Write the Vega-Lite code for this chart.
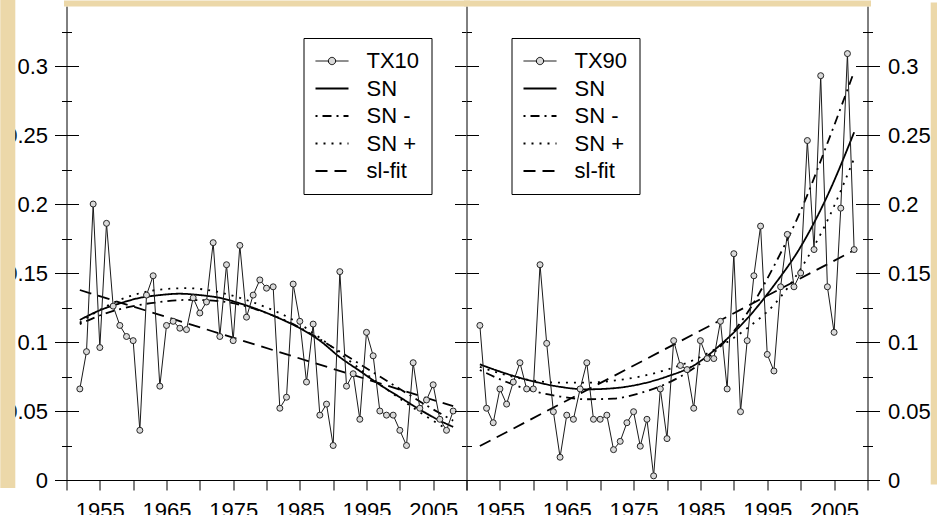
{
  "$schema": "https://vega.github.io/schema/vega-lite/v6.json",
  "background": "white",
  "padding": {"left": 4.5, "top": 3, "right": 2, "bottom": -3},
  "spacing": 0,
  "bounds": "flush",
  "resolve": {"scale": {"strokeDash": "independent"}, "legend": {"strokeDash": "independent"}},
  "config": {
    "font": "Liberation Sans",
    "view": {"stroke": null},
    "axis": {
      "labelFont": "Liberation Sans",
      "labelFontSize": 22,
      "labelColor": "black",
      "tickColor": "black",
      "tickWidth": 1,
      "domainColor": "black",
      "domainWidth": 1,
      "labelFlush": false,
      "labelOverlap": false,
      "labelBound": false
    },
    "legend": {
      "orient": "none",
      "labelFont": "Liberation Sans",
      "labelFontSize": 22,
      "labelColor": "black",
      "padding": 12,
      "rowPadding": 5.5,
      "strokeColor": "black",
      "fillColor": "white"
    }
  },
  "datasets": {
    "tx10": [
      {"year": 1952, "value": 0.066}, {"year": 1953, "value": 0.093}, {"year": 1954, "value": 0.200},
      {"year": 1955, "value": 0.096}, {"year": 1956, "value": 0.186}, {"year": 1957, "value": 0.126},
      {"year": 1958, "value": 0.112}, {"year": 1959, "value": 0.104}, {"year": 1960, "value": 0.101},
      {"year": 1961, "value": 0.036}, {"year": 1962, "value": 0.134}, {"year": 1963, "value": 0.148},
      {"year": 1964, "value": 0.068}, {"year": 1965, "value": 0.112}, {"year": 1966, "value": 0.115},
      {"year": 1967, "value": 0.110}, {"year": 1968, "value": 0.109}, {"year": 1969, "value": 0.132},
      {"year": 1970, "value": 0.121}, {"year": 1971, "value": 0.129}, {"year": 1972, "value": 0.172},
      {"year": 1973, "value": 0.104}, {"year": 1974, "value": 0.156}, {"year": 1975, "value": 0.101},
      {"year": 1976, "value": 0.170}, {"year": 1977, "value": 0.118}, {"year": 1978, "value": 0.134},
      {"year": 1979, "value": 0.145}, {"year": 1980, "value": 0.139}, {"year": 1981, "value": 0.140},
      {"year": 1982, "value": 0.052}, {"year": 1983, "value": 0.060}, {"year": 1984, "value": 0.142},
      {"year": 1985, "value": 0.115}, {"year": 1986, "value": 0.071}, {"year": 1987, "value": 0.113},
      {"year": 1988, "value": 0.047}, {"year": 1989, "value": 0.055}, {"year": 1990, "value": 0.025},
      {"year": 1991, "value": 0.151}, {"year": 1992, "value": 0.068}, {"year": 1993, "value": 0.077},
      {"year": 1994, "value": 0.044}, {"year": 1995, "value": 0.107}, {"year": 1996, "value": 0.090},
      {"year": 1997, "value": 0.050}, {"year": 1998, "value": 0.047}, {"year": 1999, "value": 0.047},
      {"year": 2000, "value": 0.036}, {"year": 2001, "value": 0.025}, {"year": 2002, "value": 0.085},
      {"year": 2003, "value": 0.052}, {"year": 2004, "value": 0.058}, {"year": 2005, "value": 0.069},
      {"year": 2006, "value": 0.044}, {"year": 2007, "value": 0.036}, {"year": 2008, "value": 0.050}
    ],
    "tx10_fits": [
      {"series": "SN", "year": 1952, "value": 0.116}, {"series": "SN", "year": 1955, "value": 0.123},
      {"series": "SN", "year": 1958, "value": 0.128}, {"series": "SN", "year": 1961, "value": 0.132},
      {"series": "SN", "year": 1964, "value": 0.134}, {"series": "SN", "year": 1967, "value": 0.135},
      {"series": "SN", "year": 1970, "value": 0.134}, {"series": "SN", "year": 1973, "value": 0.132},
      {"series": "SN", "year": 1976, "value": 0.128}, {"series": "SN", "year": 1979, "value": 0.123},
      {"series": "SN", "year": 1982, "value": 0.117}, {"series": "SN", "year": 1985, "value": 0.110},
      {"series": "SN", "year": 1988, "value": 0.101}, {"series": "SN", "year": 1991, "value": 0.089},
      {"series": "SN", "year": 1994, "value": 0.079}, {"series": "SN", "year": 1997, "value": 0.069},
      {"series": "SN", "year": 2000, "value": 0.060}, {"series": "SN", "year": 2003, "value": 0.051},
      {"series": "SN", "year": 2006, "value": 0.043}, {"series": "SN", "year": 2008, "value": 0.0385},
      {"series": "SN -", "year": 1952, "value": 0.113}, {"series": "SN -", "year": 1956, "value": 0.121},
      {"series": "SN -", "year": 1960, "value": 0.126}, {"series": "SN -", "year": 1964, "value": 0.129},
      {"series": "SN -", "year": 1968, "value": 0.1305}, {"series": "SN -", "year": 1972, "value": 0.130},
      {"series": "SN -", "year": 1976, "value": 0.127}, {"series": "SN -", "year": 1980, "value": 0.121},
      {"series": "SN -", "year": 1984, "value": 0.113}, {"series": "SN -", "year": 1988, "value": 0.102},
      {"series": "SN -", "year": 1992, "value": 0.090}, {"series": "SN -", "year": 1996, "value": 0.078},
      {"series": "SN -", "year": 2000, "value": 0.066}, {"series": "SN -", "year": 2004, "value": 0.054},
      {"series": "SN -", "year": 2008, "value": 0.043},
      {"series": "SN +", "year": 1952, "value": 0.114}, {"series": "SN +", "year": 1956, "value": 0.126},
      {"series": "SN +", "year": 1960, "value": 0.134}, {"series": "SN +", "year": 1964, "value": 0.138},
      {"series": "SN +", "year": 1968, "value": 0.139}, {"series": "SN +", "year": 1972, "value": 0.137},
      {"series": "SN +", "year": 1976, "value": 0.132}, {"series": "SN +", "year": 1980, "value": 0.125},
      {"series": "SN +", "year": 1984, "value": 0.116}, {"series": "SN +", "year": 1988, "value": 0.103},
      {"series": "SN +", "year": 1992, "value": 0.088}, {"series": "SN +", "year": 1996, "value": 0.073},
      {"series": "SN +", "year": 2000, "value": 0.059}, {"series": "SN +", "year": 2004, "value": 0.046},
      {"series": "SN +", "year": 2008, "value": 0.034},
      {"series": "sl-fit", "year": 1952, "value": 0.1377}, {"series": "sl-fit", "year": 2008, "value": 0.0535}
    ],
    "tx90": [
      {"year": 1952, "value": 0.112}, {"year": 1953, "value": 0.052}, {"year": 1954, "value": 0.0415},
      {"year": 1955, "value": 0.066}, {"year": 1956, "value": 0.055}, {"year": 1957, "value": 0.071},
      {"year": 1958, "value": 0.085}, {"year": 1959, "value": 0.066}, {"year": 1960, "value": 0.066},
      {"year": 1961, "value": 0.156}, {"year": 1962, "value": 0.099}, {"year": 1963, "value": 0.0495},
      {"year": 1964, "value": 0.0165}, {"year": 1965, "value": 0.047}, {"year": 1966, "value": 0.044},
      {"year": 1967, "value": 0.066}, {"year": 1968, "value": 0.085}, {"year": 1969, "value": 0.044},
      {"year": 1970, "value": 0.044}, {"year": 1971, "value": 0.047}, {"year": 1972, "value": 0.022},
      {"year": 1973, "value": 0.028}, {"year": 1974, "value": 0.0415}, {"year": 1975, "value": 0.0495},
      {"year": 1976, "value": 0.0245}, {"year": 1977, "value": 0.044}, {"year": 1978, "value": 0.003},
      {"year": 1979, "value": 0.066}, {"year": 1980, "value": 0.030}, {"year": 1981, "value": 0.101},
      {"year": 1982, "value": 0.083}, {"year": 1983, "value": 0.080}, {"year": 1984, "value": 0.052},
      {"year": 1985, "value": 0.101}, {"year": 1986, "value": 0.088}, {"year": 1987, "value": 0.088},
      {"year": 1988, "value": 0.115}, {"year": 1989, "value": 0.066}, {"year": 1990, "value": 0.164},
      {"year": 1991, "value": 0.0495}, {"year": 1992, "value": 0.101}, {"year": 1993, "value": 0.148},
      {"year": 1994, "value": 0.184}, {"year": 1995, "value": 0.091}, {"year": 1996, "value": 0.079},
      {"year": 1997, "value": 0.140}, {"year": 1998, "value": 0.178}, {"year": 1999, "value": 0.140},
      {"year": 2000, "value": 0.150}, {"year": 2001, "value": 0.246}, {"year": 2002, "value": 0.167},
      {"year": 2003, "value": 0.293}, {"year": 2004, "value": 0.140}, {"year": 2005, "value": 0.107},
      {"year": 2006, "value": 0.197}, {"year": 2007, "value": 0.309}, {"year": 2008, "value": 0.167}
    ],
    "tx90_fits": [
      {"series": "SN", "year": 1952, "value": 0.0838}, {"series": "SN", "year": 1956, "value": 0.077},
      {"series": "SN", "year": 1960, "value": 0.0715}, {"series": "SN", "year": 1964, "value": 0.0675},
      {"series": "SN", "year": 1968, "value": 0.0657}, {"series": "SN", "year": 1972, "value": 0.0665},
      {"series": "SN", "year": 1976, "value": 0.0695}, {"series": "SN", "year": 1980, "value": 0.075},
      {"series": "SN", "year": 1984, "value": 0.083}, {"series": "SN", "year": 1988, "value": 0.098},
      {"series": "SN", "year": 1992, "value": 0.117}, {"series": "SN", "year": 1996, "value": 0.141},
      {"series": "SN", "year": 2000, "value": 0.169}, {"series": "SN", "year": 2004, "value": 0.206},
      {"series": "SN", "year": 2008, "value": 0.252},
      {"series": "SN -", "year": 1952, "value": 0.0797}, {"series": "SN -", "year": 1956, "value": 0.071},
      {"series": "SN -", "year": 1960, "value": 0.0645}, {"series": "SN -", "year": 1964, "value": 0.0605},
      {"series": "SN -", "year": 1968, "value": 0.0585}, {"series": "SN -", "year": 1972, "value": 0.059},
      {"series": "SN -", "year": 1976, "value": 0.063}, {"series": "SN -", "year": 1980, "value": 0.070},
      {"series": "SN -", "year": 1984, "value": 0.081}, {"series": "SN -", "year": 1988, "value": 0.097},
      {"series": "SN -", "year": 1992, "value": 0.121}, {"series": "SN -", "year": 1996, "value": 0.155},
      {"series": "SN -", "year": 2000, "value": 0.195}, {"series": "SN -", "year": 2004, "value": 0.244},
      {"series": "SN -", "year": 2008, "value": 0.296},
      {"series": "SN +", "year": 1952, "value": 0.082}, {"series": "SN +", "year": 1956, "value": 0.076},
      {"series": "SN +", "year": 1960, "value": 0.072}, {"series": "SN +", "year": 1964, "value": 0.0705},
      {"series": "SN +", "year": 1968, "value": 0.0705}, {"series": "SN +", "year": 1972, "value": 0.072},
      {"series": "SN +", "year": 1976, "value": 0.075}, {"series": "SN +", "year": 1980, "value": 0.080},
      {"series": "SN +", "year": 1984, "value": 0.087}, {"series": "SN +", "year": 1988, "value": 0.097},
      {"series": "SN +", "year": 1992, "value": 0.110}, {"series": "SN +", "year": 1996, "value": 0.127},
      {"series": "SN +", "year": 2000, "value": 0.153}, {"series": "SN +", "year": 2004, "value": 0.188},
      {"series": "SN +", "year": 2008, "value": 0.233},
      {"series": "sl-fit", "year": 1952, "value": 0.0246}, {"series": "sl-fit", "year": 2008, "value": 0.1665}
    ]
  },
  "hconcat": [
    {
      "width": 400,
      "height": 474,
      "view": {"fill": "white", "stroke": null},
      "layer": [
        {
          "data": {"name": "tx10_fits"},
          "mark": {"type": "line", "interpolate": "monotone", "color": "black", "strokeWidth": 1.8},
          "encoding": {
            "x": {
              "field": "year", "type": "quantitative", "title": null,
              "scale": {"domain": [1950, 2010], "nice": false, "zero": false},
              "axis": {
                "orient": "bottom", "zindex": 1,
                "values": [1955, 1965, 1975, 1985, 1995, 2005],
                "format": "d",
                "tickSize": 10, "labelPadding": 10, "domain": true, "grid": false
              }
            },
            "y": {
              "field": "value", "type": "quantitative", "title": null,
              "scale": {"domain": [0, 0.3435], "nice": false, "zero": false},
              "axis": {
                "orient": "left", "zindex": 1,
                "values": [0, 0.05, 0.1, 0.15, 0.2, 0.25, 0.3],
                "format": "~g",
                "tickSize": 12, "labelPadding": 7, "domain": true,
                "grid": true, "gridColor": "black", "gridWidth": 1, "gridDash": [12, 376]
              }
            },
            "strokeDash": {
              "field": "series", "type": "nominal",
              "scale": {
                "domain": ["TX10", "SN", "SN -", "SN +", "sl-fit"],
                "range": [[1, 0], [1, 0], [2, 5, 9, 5], [2, 6], [12, 7]]
              },
              "legend": {
                "title": null, "orient": "none", "legendX": 237, "legendY": 32,
                "symbolOffset": 5.5, "labelOffset": 23.5,
                "symbolStrokeColor": "black", "symbolStrokeWidth": 1.8,
                "encode": {
                  "symbols": {
                    "update": {
                      "shape": {"signal": "datum.value === 'TX10' ? 'M-1,0H-0.22M0.22,0H1M-0.22,0A0.22,0.22,0,1,0,0.22,0A0.22,0.22,0,1,0,-0.22,0Z' : 'stroke'"},
                      "size": {"value": 1089},
                      "fill": {"signal": "datum.value === 'TX10' ? '#d9d9d9' : 'transparent'"},
                      "stroke": {"value": "black"},
                      "strokeWidth": {"signal": "datum.value === 'TX10' ? 1 : 1.8"}
                    }
                  }
                }
              }
            }
          }
        },
        {
          "data": {"name": "tx10"},
          "mark": {"type": "line", "color": "#1a1a1a", "strokeWidth": 1},
          "encoding": {
            "x": {
              "field": "year", "type": "quantitative", "title": null,
              "axis": {
                "orient": "bottom", "zindex": 1,
                "values": [1950, 1960, 1970, 1980, 1990, 2000, 2010],
                "labels": false, "domain": false, "tickSize": 10, "grid": false
              }
            },
            "y": {
              "field": "value", "type": "quantitative", "title": null,
              "axis": {
                "orient": "left", "zindex": 1,
                "values": [0.025, 0.075, 0.125, 0.175, 0.225, 0.275, 0.325],
                "labels": false, "domain": false, "tickSize": 5,
                "grid": true, "gridColor": "black", "gridWidth": 1, "gridDash": [5, 390]
              }
            }
          }
        },
        {
          "data": {"name": "tx10"},
          "mark": {"type": "circle", "size": 36, "fill": "#d9d9d9", "stroke": "#262626", "strokeWidth": 1, "opacity": 1},
          "encoding": {
            "x": {
              "field": "year", "type": "quantitative", "title": null,
              "axis": {
                "orient": "top", "zindex": 2, "offset": 3,
                "labels": false, "ticks": false, "grid": false,
                "domain": true, "domainColor": "#ecd8a9", "domainWidth": 6, "domainCap": "square"
              }
            },
            "y": {
              "field": "value", "type": "quantitative", "title": null,
              "axis": {
                "orient": "left", "zindex": 2, "offset": 59.2,
                "labels": false, "ticks": false, "grid": false,
                "domain": true, "domainColor": "#ecd8a9", "domainWidth": 15, "domainCap": "square"
              }
            }
          }
        }
      ],
      "resolve": {"axis": {"x": "independent", "y": "independent"}}
    },
    {
      "width": 401,
      "height": 474,
      "view": {"fill": "white", "stroke": null},
      "layer": [
        {
          "data": {"name": "tx90_fits"},
          "mark": {"type": "line", "interpolate": "monotone", "color": "black", "strokeWidth": 1.8},
          "encoding": {
            "x": {
              "field": "year", "type": "quantitative", "title": null,
              "scale": {"domain": [1950, 2010], "nice": false, "zero": false},
              "axis": {
                "orient": "bottom", "zindex": 1,
                "values": [1955, 1965, 1975, 1985, 1995, 2005],
                "format": "d",
                "tickSize": 10, "labelPadding": 10, "domain": true, "grid": false
              }
            },
            "y": {
              "field": "value", "type": "quantitative", "title": null,
              "scale": {"domain": [0, 0.3435], "nice": false, "zero": false},
              "axis": {
                "orient": "right", "zindex": 1,
                "values": [0, 0.05, 0.1, 0.15, 0.2, 0.25, 0.3],
                "format": "~g",
                "tickSize": 12, "labelPadding": 8, "domain": true,
                "grid": true, "gridColor": "black", "gridWidth": 1, "gridDash": [12, 377]
              }
            },
            "strokeDash": {
              "field": "series", "type": "nominal",
              "scale": {
                "domain": ["TX90", "SN", "SN -", "SN +", "sl-fit"],
                "range": [[1, 0], [1, 0], [2, 5, 9, 5], [2, 6], [12, 7]]
              },
              "legend": {
                "title": null, "orient": "none", "legendX": 45, "legendY": 32,
                "symbolOffset": 5.5, "labelOffset": 23.5,
                "symbolStrokeColor": "black", "symbolStrokeWidth": 1.8,
                "encode": {
                  "symbols": {
                    "update": {
                      "shape": {"signal": "datum.value === 'TX90' ? 'M-1,0H-0.22M0.22,0H1M-0.22,0A0.22,0.22,0,1,0,0.22,0A0.22,0.22,0,1,0,-0.22,0Z' : 'stroke'"},
                      "size": {"value": 1089},
                      "fill": {"signal": "datum.value === 'TX90' ? '#d9d9d9' : 'transparent'"},
                      "stroke": {"value": "black"},
                      "strokeWidth": {"signal": "datum.value === 'TX90' ? 1 : 1.8"}
                    }
                  }
                }
              }
            }
          }
        },
        {
          "data": {"name": "tx90"},
          "mark": {"type": "line", "color": "#1a1a1a", "strokeWidth": 1},
          "encoding": {
            "x": {
              "field": "year", "type": "quantitative", "title": null,
              "axis": {
                "orient": "bottom", "zindex": 1,
                "values": [1950, 1960, 1970, 1980, 1990, 2000, 2010],
                "labels": false, "domain": false, "tickSize": 10,
                "grid": true, "gridWidth": 1,
                "gridColor": {"condition": {"test": "datum.value === 1950", "value": "black"}, "value": "transparent"}
              }
            },
            "y": {
              "field": "value", "type": "quantitative", "title": null,
              "axis": {
                "orient": "right", "zindex": 1,
                "values": [0.025, 0.075, 0.125, 0.175, 0.225, 0.275, 0.325],
                "labels": false, "domain": false, "tickSize": 5,
                "grid": true, "gridColor": "black", "gridWidth": 1, "gridDash": [5, 391]
              }
            }
          }
        },
        {
          "data": {"name": "tx90"},
          "mark": {"type": "circle", "size": 36, "fill": "#d9d9d9", "stroke": "#262626", "strokeWidth": 1, "opacity": 1},
          "encoding": {
            "x": {
              "field": "year", "type": "quantitative", "title": null,
              "axis": {
                "orient": "top", "zindex": 2, "offset": 3,
                "labels": false, "ticks": false, "grid": false,
                "domain": true, "domainColor": "#ecd8a9", "domainWidth": 6, "domainCap": "square"
              }
            },
            "y": {
              "field": "value", "type": "quantitative", "title": null,
              "axis": {
                "orient": "right", "zindex": 2, "offset": 66.7,
                "labels": false, "ticks": false, "grid": false,
                "domain": true, "domainColor": "#ecd8a9", "domainWidth": 8, "domainCap": "square"
              }
            }
          }
        }
      ],
      "resolve": {"axis": {"x": "independent", "y": "independent"}}
    }
  ]
}
